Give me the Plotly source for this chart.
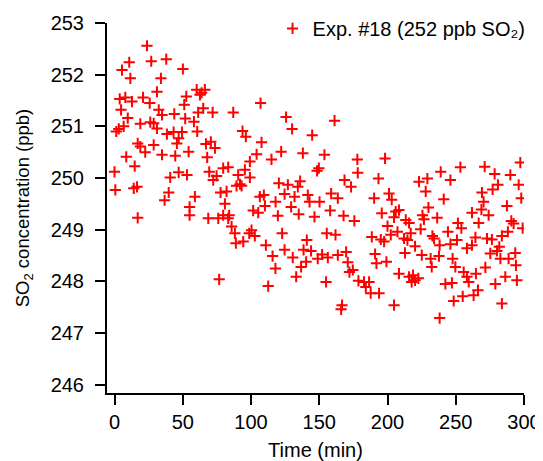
import plotly.graph_objects as go

# Time (min) and SO2 concentration (ppb)
time_min = [
    23.8, 10.8, 26.9, 37.9, 5.5, 50.1, 11.6, 34.0, 31.1, 3.8, 7.9, 12.8, 20.9, 25.8, 52.6, 51.1,
    4.8, 32.4, 34.8, 43.8, 9.7, 51.8, 18.9, 26.2, 28.7, 31.1, 3.1, 6.7, 1.3, 38.4, 43.3, 49.4,
    47.0, 17.0, 18.9, 28.7, 45.7, 22.5, 34.8, 44.5, 54.3, 8.6, 14.8, 0.0, 40.8, 47.0, 53.1, 0.6,
    14.1, 16.5, 39.7, 36.7, 17.0, 55.0, 55.0,
    60.2, 63.8, 66.2, 62.6, 107.0, 65.0, 61.3, 71.9, 87.0, 58.2, 60.6, 93.8, 96.2, 107.7, 67.0,
    70.6, 73.6, 104.1, 99.2, 115.0, 67.9, 79.6, 83.3, 69.4, 74.8, 72.3, 95.5, 90.6, 99.2, 89.4,
    91.9, 93.1, 77.7, 82.1, 58.9, 106.5, 109.4, 80.9, 110.2, 101.6, 105.3, 68.7, 76.0, 79.6,
    84.0, 83.3, 85.8, 88.2, 100.4, 98.7, 102.8, 94.3, 88.9, 110.9, 115.8, 117.9, 76.7, 112.6,
    125.7, 161.2, 130.1, 144.8, 122.1, 138.0, 153.8, 177.9, 148.4, 149.7, 178.2, 120.4, 127.0,
    134.3, 136.0, 168.5, 173.3, 124.6, 131.9, 141.6, 158.7, 163.6, 118.0, 142.9, 150.2, 129.4,
    158.0, 119.7, 135.0, 146.5, 167.8, 175.7, 122.8, 155.5, 161.9, 140.9, 124.6, 138.5, 144.0,
    152.1, 156.3, 163.6, 169.7, 130.6, 148.9, 140.4, 136.7, 170.9, 172.1, 174.6, 133.1, 155.0,
    178.7, 166.7, 166.0,
    198.2, 193.4, 223.1, 229.2, 239.0, 228.0, 201.1, 203.1, 190.2, 230.0, 195.8, 206.0, 208.4,
    204.8, 213.4, 215.8, 225.6, 226.7, 236.4, 200.0, 224.3, 207.3, 202.4, 188.5, 195.1, 197.5,
    212.1, 214.6, 217.0, 232.9, 234.1, 220.2, 238.2, 212.8, 190.9, 225.1, 231.6, 237.7, 191.9,
    199.2, 232.4, 208.4, 215.8, 218.7, 220.2, 222.6, 217.7, 182.8, 186.5, 184.1, 187.7, 193.8,
    204.8, 238.2,
    246.1, 253.4, 271.2, 278.5, 290.0, 297.3, 296.1, 280.9, 277.0, 269.2, 241.2, 298.0, 270.4,
    287.5, 268.8, 261.9, 274.1, 251.6, 266.8, 290.7, 292.4, 254.1, 244.3, 299.0, 288.2, 283.8,
    264.4, 272.9, 276.5, 250.9, 246.1, 261.9, 258.2, 281.9, 280.2, 275.3, 293.6, 247.7, 282.7,
    288.7, 249.7, 271.7, 294.1, 255.8, 264.8, 258.2, 259.5, 286.3, 294.8, 242.4, 247.2, 279.0,
    266.3, 263.1, 255.1, 248.5, 283.8,
]
so2_ppb = [
    252.56, 252.24, 252.26, 252.30, 252.09, 252.11, 251.93, 251.93, 251.67, 251.53, 251.56,
    251.48, 251.56, 251.45, 251.58, 251.42, 251.32, 251.32, 251.22, 251.24, 251.16, 251.15,
    251.05, 251.08, 251.06, 250.96, 250.95, 251.00, 250.90, 250.85, 250.89, 250.89, 250.77,
    250.67, 250.61, 250.64, 250.67, 250.50, 250.45, 250.43, 250.51, 250.41, 250.23, 250.12,
    250.01, 250.11, 250.06, 249.77, 249.80, 249.83, 249.72, 249.57, 249.23, 249.44, 249.28,
    251.71, 251.65, 251.71, 251.61, 251.45, 251.35, 251.27, 251.27, 251.27, 251.09, 250.90,
    250.91, 250.80, 250.69, 250.66, 250.70, 250.58, 250.46, 250.32, 250.36, 250.40, 250.19,
    250.21, 250.12, 250.04, 249.96, 250.16, 250.06, 250.01, 249.85, 249.88, 249.85, 249.72,
    249.74, 249.64, 249.64, 249.67, 249.50, 249.46, 249.37, 249.33, 249.22, 249.22, 249.28,
    249.28, 249.22, 249.06, 248.93, 248.99, 248.93, 248.88, 248.77, 248.74, 248.70, 248.49,
    248.25, 248.04, 247.91,
    251.18, 251.11, 250.95, 250.83, 250.51, 250.48, 250.45, 250.36, 250.14, 250.19, 250.10,
    249.90, 249.87, 249.83, 249.94, 249.96, 249.83, 249.69, 249.64, 249.67, 249.70, 249.61,
    249.54, 249.54, 249.54, 249.44, 249.37, 249.27, 249.30, 249.25, 249.27, 249.17, 248.93,
    248.93, 248.90, 248.80, 248.61, 248.61, 248.59, 248.52, 248.46, 248.51, 248.57, 248.46,
    248.44, 248.38, 248.28, 248.37, 248.18, 248.22, 248.09, 247.99, 248.01, 247.54, 247.46,
    250.38, 249.99, 249.93, 249.99, 250.12, 249.74, 249.70, 249.58, 249.61, 249.43, 249.32,
    249.35, 249.38, 249.24, 249.19, 249.13, 249.28, 249.20, 249.23, 249.07, 249.01, 248.96,
    248.90, 248.86, 248.81, 248.77, 248.83, 248.80, 248.93, 248.88, 248.83, 248.68, 248.70,
    248.55, 248.53, 248.51, 248.44, 248.49, 248.35, 248.38, 248.28, 248.15, 248.09, 248.12,
    248.02, 248.06, 247.99, 247.99, 247.99, 247.89, 247.77, 247.77, 247.54, 247.29,
    249.96, 250.21, 250.22, 250.08, 250.06, 250.30, 249.87, 249.87, 249.78, 249.72, 249.59,
    249.61, 249.54, 249.46, 249.39, 249.33, 249.28, 249.13, 249.13, 249.17, 249.12, 249.03,
    248.96, 249.03, 248.96, 248.88, 248.85, 248.83, 248.81, 248.80, 248.72, 248.70, 248.64,
    248.67, 248.59, 248.54, 248.55, 248.44, 248.44, 248.44, 248.28, 248.27, 248.31, 248.18,
    248.15, 248.09, 247.99, 248.09, 248.02, 247.95, 247.97, 247.95, 247.83, 247.73, 247.71,
    247.62, 247.57,
]

x_ticks = [0, 50, 100, 150, 200, 250, 300]
y_ticks = [246, 247, 248, 249, 250, 251, 252, 253]

FONT = "Arial, Liberation Sans, Helvetica, sans-serif"

fig = go.Figure()
fig.add_trace(go.Scatter(
    x=time_min, y=so2_ppb, mode="markers",
    name="Exp. #18 (252 ppb SO₂)",
    marker=dict(symbol="cross-thin", size=8, color="#ff0000",
                line=dict(color="#ff0000", width=2)),
))

axis_common = dict(
    showline=True, linecolor="black", linewidth=2,
    ticks="outside", ticklen=10, tickwidth=2, tickcolor="black",
    showgrid=False, zeroline=False, mirror=False, automargin=False,
    tickfont=dict(family=FONT, size=20, color="black"),
)

fig.update_xaxes(
    range=[-5.5, 300], tickvals=x_ticks, ticklabelstandoff=0,
    title=dict(text="Time (min)", font=dict(family=FONT, size=20, color="black"), standoff=11),
    **axis_common,
)
fig.update_yaxes(
    range=[245.84, 253.0], tickvals=y_ticks, ticklabelstandoff=7,
    title=dict(text="SO<sub>2</sub> concentration (ppb)", font=dict(family=FONT, size=18.5, color="black"), standoff=16),
    **axis_common,
)

# the page body adds an 8 px offset, so the figure is kept 8 px smaller
fig.update_layout(
    width=535, height=453,
    margin=dict(l=99, r=19, t=15, b=68, autoexpand=False),
    plot_bgcolor="white", paper_bgcolor="white",
    font=dict(family=FONT, size=20, color="black"),
    showlegend=True,
    legend=dict(x=0.397, y=1.038, xanchor="left", yanchor="top",
                bgcolor="rgba(0,0,0,0)", borderwidth=0,
                font=dict(family=FONT, size=20, color="black")),
)

fig.write_html("out.html")
